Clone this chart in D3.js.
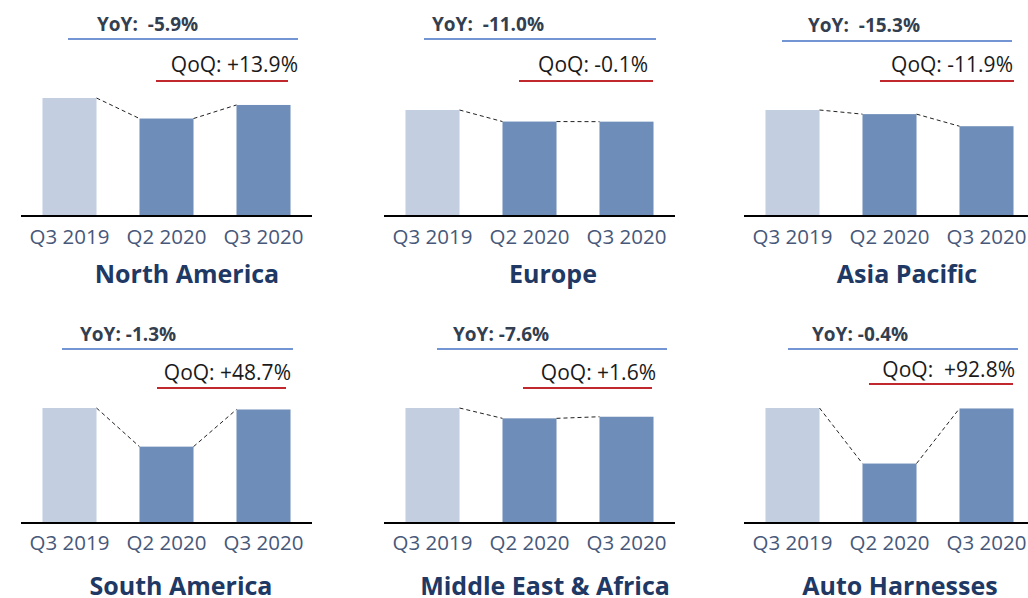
<!DOCTYPE html>
<html>
<head>
<meta charset="utf-8">
<script src="https://cdn.jsdelivr.net/npm/d3@7/dist/d3.min.js"></script>
<style>
  body { margin: 0; background: #fff; }
  svg text { white-space: pre; }
</style>
</head>
<body>
<div id="chart"></div>
<script>
// quarters on the x axis
const categories = ["Q3 2019", "Q2 2020", "Q3 2020"];

const regions = ["North America", "Europe", "Asia Pacific",
                 "South America", "Middle East & Africa", "Auto Harnesses"];

// sales indexed to Q3 2019 = 100
const northAmerica = [100, 82.6, 94.1];
const europe       = [100, 89.1, 89.0];
const asiaPacific  = [100, 96.1, 84.7];
const southAmerica = [100, 66.4, 98.7];
const mea          = [100, 91.0, 92.4];
const autoHarness  = [100, 51.7, 99.6];

const yoyLabels = ["YoY:  -5.9%", "YoY:  -11.0%", "YoY:  -15.3%",
                   "YoY: -1.3%", "YoY: -7.6%", "YoY: -0.4%"];
const qoqLabels = ["QoQ: +13.9%", "QoQ: -0.1%", "QoQ: -11.9%",
                   "QoQ: +48.7%", "QoQ: +1.6%", "QoQ:  +92.8%"];

const series = [northAmerica, europe, asiaPacific, southAmerica, mea, autoHarness];

// layout for each panel (offsets relative to panel origin)
const layout = [
  { ox: 0,   oy: 0,   peak: 118, yoyX: 97, yoyY: 31, blue: [68, 298, 39],  qoqX: 298, qoqY: 72, red: [156, 288, 81], titleX: 187, titleY: 283 },
  { ox: 363, oy: 0,   peak: 106, yoyX: 69, yoyY: 31, blue: [61, 293, 39],  qoqX: 285, qoqY: 72, red: [156, 290, 81], titleX: 190, titleY: 283 },
  { ox: 723, oy: 0,   peak: 106, yoyX: 85, yoyY: 32, blue: [59, 289, 41],  qoqX: 290, qoqY: 72, red: [157, 291, 81], titleX: 184, titleY: 283 },
  { ox: 0,   oy: 307, peak: 115, yoyX: 80, yoyY: 34, blue: [62, 293, 42],  qoqX: 291, qoqY: 73, red: [157, 286, 81], titleX: 181, titleY: 288 },
  { ox: 363, oy: 307, peak: 115, yoyX: 90, yoyY: 34, blue: [74, 304, 42],  qoqX: 293, qoqY: 73, red: [160, 289, 81], titleX: 182, titleY: 288 },
  { ox: 723, oy: 307, peak: 115, yoyX: 89, yoyY: 34, blue: [65, 295, 42],  qoqX: 292, qoqY: 70, red: [146, 290, 77], titleX: 177, titleY: 288 }
];

const width = 1028, height = 598;
const baseY = 216;
const font = "'Open Sans', Lato, sans-serif";

const svg = d3.select("#chart").append("svg")
  .attr("width", width)
  .attr("height", height)
  .style("font-family", font);

const x = d3.scaleBand()
  .domain(categories)
  .range([21, 312])
  .paddingInner(0.443)
  .paddingOuter(0.2215);

const colors = ["#c3cee0", "#6e8db8", "#6e8db8"];

series.forEach((vals, i) => {
  const L = layout[i];
  const g = svg.append("g").attr("transform", `translate(${L.ox},${L.oy})`);

  const y = d3.scaleLinear().domain([0, 100]).range([baseY, baseY - L.peak]);

  // YoY label + blue rule
  g.append("text")
    .attr("x", L.yoyX).attr("y", L.yoyY)
    .attr("font-size", 19).attr("font-weight", "bold")
    .attr("fill", "#333f50")
    .text(yoyLabels[i]);
  g.append("line")
    .attr("x1", L.blue[0]).attr("x2", L.blue[1])
    .attr("y1", L.blue[2]).attr("y2", L.blue[2])
    .attr("stroke", "#4472c4").attr("stroke-width", 1.6);

  // QoQ label + red rule
  g.append("text")
    .attr("x", L.qoqX).attr("y", L.qoqY)
    .attr("text-anchor", "end")
    .attr("font-size", 21)
    .attr("fill", "#1a1a1a")
    .text(qoqLabels[i]);
  g.append("line")
    .attr("x1", L.red[0]).attr("x2", L.red[1])
    .attr("y1", L.red[2]).attr("y2", L.red[2])
    .attr("stroke", "#c0282d").attr("stroke-width", 1.8);

  const data = categories.map((c, j) => ({ cat: c, v: vals[j] }));

  // bars
  g.selectAll("rect.bar")
    .data(data)
    .enter()
    .append("rect")
    .attr("class", "bar")
    .attr("x", d => x(d.cat))
    .attr("y", d => y(d.v))
    .attr("width", x.bandwidth())
    .attr("height", d => baseY - y(d.v))
    .attr("fill", (d, j) => colors[j]);

  // dashed connectors between bar tops
  const pairs = d3.pairs(data);
  g.selectAll("line.conn")
    .data(pairs)
    .enter()
    .append("line")
    .attr("class", "conn")
    .attr("x1", d => x(d[0].cat) + x.bandwidth())
    .attr("y1", d => y(d[0].v))
    .attr("x2", d => x(d[1].cat))
    .attr("y2", d => y(d[1].v))
    .attr("stroke", "#222")
    .attr("stroke-width", 1)
    .attr("stroke-dasharray", "4,3");

  // axis
  const axis = g.append("g")
    .attr("transform", `translate(0,${baseY})`)
    .call(d3.axisBottom(x).tickSize(0).tickPadding(0));
  axis.select(".domain")
    .attr("d", "M21,0H312")
    .attr("stroke", "#000")
    .attr("stroke-width", 2);
  axis.selectAll(".tick text")
    .attr("dy", null)
    .attr("y", i < 3 ? 28 : 27)
    .attr("font-size", 20.5)
    .attr("font-family", font)
    .attr("fill", "#47587a");

  // title
  g.append("text")
    .attr("x", L.titleX).attr("y", L.titleY)
    .attr("text-anchor", "middle")
    .attr("font-size", 25).attr("font-weight", "bold")
    .attr("fill", "#203864")
    .text(regions[i]);
});
</script>
</body>
</html>
